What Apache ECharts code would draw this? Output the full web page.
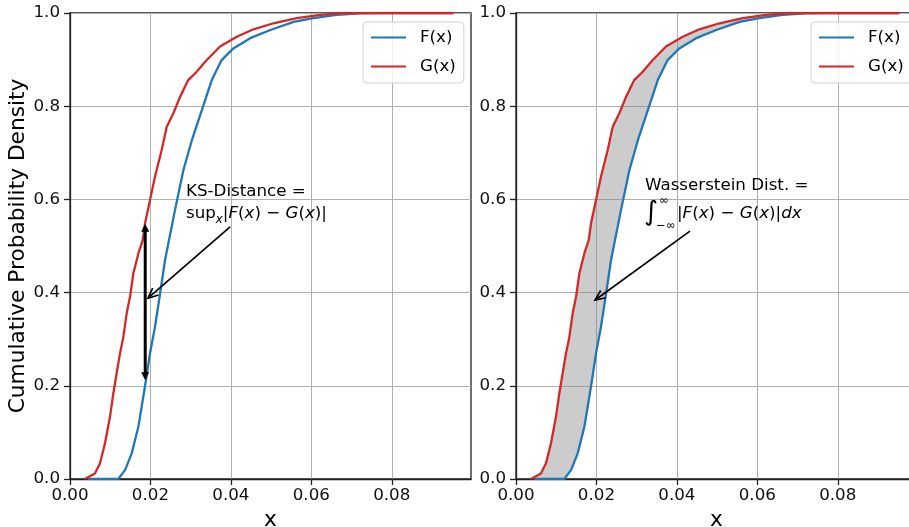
<!DOCTYPE html>
<html>
<head>
<meta charset="utf-8">
<script src="https://cdn.jsdelivr.net/npm/echarts@6/dist/echarts.min.js"></script>
<style>html,body{margin:0;padding:0;background:#fff;}#c{width:909px;height:527px;}</style>
</head>
<body>
<div id="c"></div>
<script>
// ---- data ----
const FX = [0.0045, 0.0120, 0.01368, 0.01534, 0.0170, 0.01824, 0.0191, 0.0199, 0.02114, 0.0224, 0.02363, 0.02446, 0.0261, 0.0282, 0.0303, 0.0328, 0.03525, 0.0377, 0.0406, 0.0448, 0.0498, 0.0556, 0.0605, 0.0663, 0.0721, 0.078, 0.0953];
const FY = [0, 0, 0.019, 0.055, 0.112, 0.177, 0.224, 0.27, 0.327, 0.398, 0.47, 0.506, 0.577, 0.663, 0.727, 0.792, 0.856, 0.899, 0.924, 0.946, 0.9635, 0.981, 0.989, 0.996, 0.999, 1.0, 1.0];
const GX = [0.0037, 0.0062, 0.00746, 0.0087, 0.00995, 0.01078, 0.0116, 0.01244, 0.01327, 0.0141, 0.01493, 0.01575, 0.0170, 0.0181, 0.01866, 0.0199, 0.02114, 0.0228, 0.02405, 0.0257, 0.02736, 0.0294, 0.0315, 0.034, 0.0373, 0.04147, 0.0456, 0.0506, 0.0564, 0.0622, 0.068, 0.0953];
const GY = [0, 0.012, 0.034, 0.0766, 0.134, 0.184, 0.227, 0.27, 0.305, 0.356, 0.391, 0.441, 0.484, 0.513, 0.549, 0.599, 0.649, 0.706, 0.756, 0.785, 0.82, 0.856, 0.874, 0.899, 0.928, 0.949, 0.965, 0.978, 0.989, 0.996, 1.0, 1.0];
const XTICKS = [0, 0.02, 0.04, 0.06, 0.08];
const SERIES_NAMES = ['F(x)', 'G(x)'];
const KS_X = 0.0187, KS_LOW = 0.212, KS_HIGH = 0.548;
const ARROW_LEFT = [[0.0398, 0.541], [0.0194, 0.388]];
const ARROW_RIGHT = [[0.04325, 0.532], [0.01968, 0.384]];

const FONT = 'DejaVu Sans';
const BLUE = '#1f77b4', RED = '#d62728';
const fData = FX.map((x, i) => [x, FY[i]]);
const gData = GX.map((x, i) => [x, GY[i]]);

const chart = echarts.init(document.getElementById('c'), null, {renderer: 'canvas'});

function xAxis(gi) {
  return {
    type: 'value', gridIndex: gi, min: 0, max: 0.0997,
    name: 'x', nameLocation: 'middle', nameGap: 27,
    nameTextStyle: {fontSize: 21.7, fontFamily: FONT, color: '#000'},
    axisLine: {show: true, lineStyle: {color: '#222', width: 1.3}},
    axisTick: {show: true, length: 6, customValues: XTICKS, lineStyle: {color: '#222', width: 1.3}},
    axisLabel: {customValues: XTICKS, margin: 8, fontSize: 16.7, fontFamily: FONT, color: '#111', formatter: v => v.toFixed(2)},
    splitLine: {show: true, lineStyle: {color: '#b0b0b0', width: 1}}
  };
}
function yAxis(gi, withName) {
  return {
    type: 'value', gridIndex: gi, min: 0, max: 1, interval: 0.2,
    name: withName ? 'Cumulative Probability Density' : '', nameLocation: 'middle', nameGap: 37,
    nameTextStyle: {fontSize: 21.7, fontFamily: FONT, color: '#000'},
    axisLine: {show: true, lineStyle: {color: '#222', width: 1.3}},
    axisTick: {show: true, length: 6, lineStyle: {color: '#222', width: 1.3}},
    axisLabel: {margin: 10, fontSize: 16.7, fontFamily: FONT, color: '#111', formatter: v => v.toFixed(1)},
    splitLine: {show: true, lineStyle: {color: '#b0b0b0', width: 1}}
  };
}
function legend(left) {
  return {
    orient: 'vertical', left: left, top: 22, padding: [7, 8, 8, 7],
    itemWidth: 35, itemHeight: 14, itemGap: 12,
    backgroundColor: 'rgba(255,255,255,0.8)', borderColor: '#d0d0d0', borderWidth: 1, borderRadius: 4,
    itemStyle: {opacity: 0},
    textStyle: {fontSize: 16.7, fontFamily: FONT, color: '#000', padding: [0, 0, 0, 9]},
    data: SERIES_NAMES, selectedMode: false
  };
}
function lineSeries(name, data, color, gi) {
  return {
    type: 'line', name: name, data: data, xAxisIndex: gi, yAxisIndex: gi,
    symbol: 'none', lineStyle: {color: color, width: 2.3}, itemStyle: {color: color},
    clip: true, z: 3, silent: true
  };
}

chart.setOption({
  animation: false,
  backgroundColor: '#fff',
  textStyle: {fontFamily: FONT},
  grid: [
    {left: 70, top: 13, width: 401, height: 466, show: true, borderColor: '#222', borderWidth: 1.3, outerBoundsMode: 'none'},
    {left: 516, top: 13, width: 401, height: 466, show: true, borderColor: '#222', borderWidth: 1.3, outerBoundsMode: 'none'}
  ],
  xAxis: [xAxis(0), xAxis(1)],
  yAxis: [yAxis(0, true), yAxis(1, false)],
  legend: [legend(363), legend(811)],
  series: [
    lineSeries('F(x)', fData, BLUE, 0),
    lineSeries('G(x)', gData, RED, 0),
    {
      type: 'custom', name: 'between', xAxisIndex: 1, yAxisIndex: 1, data: [[0, 0]], clip: true, silent: true, z: 1,
      renderItem: function (params, api) {
        const pts = gData.map(p => api.coord(p)).concat(fData.slice().reverse().map(p => api.coord(p)));
        return {type: 'polygon', shape: {points: pts}, style: {fill: 'rgba(128,128,128,0.4)', stroke: null}};
      }
    },
    lineSeries('F(x)', fData, BLUE, 1),
    lineSeries('G(x)', gData, RED, 1)
  ]
});

// ---- annotations positioned through the axes ----
function px(gi, p) { return chart.convertToPixel({gridIndex: gi}, p); }
function annotArrow(gi, pair) {
  const tail = px(gi, pair[0]), tip = px(gi, pair[1]);
  const dx = tip[0] - tail[0], dy = tip[1] - tail[1];
  const len = Math.hypot(dx, dy), bx = -dx / len, by = -dy / len;
  const L = 11, a = 24 * Math.PI / 180, c = Math.cos(a), s = Math.sin(a);
  const a1 = [tip[0] + L * (bx * c - by * s), tip[1] + L * (bx * s + by * c)];
  const a2 = [tip[0] + L * (bx * c + by * s), tip[1] + L * (-bx * s + by * c)];
  return [
    {type: 'line', z: 100, shape: {x1: tail[0], y1: tail[1], x2: tip[0], y2: tip[1]}, style: {stroke: '#000', lineWidth: 1.7}},
    {type: 'polyline', z: 100, shape: {points: [a1, tip, a2]}, style: {stroke: '#000', lineWidth: 1.7, fill: null}}
  ];
}
const ksTop = px(0, [KS_X, KS_HIGH]), ksBot = px(0, [KS_X, KS_LOW]);
const HL = 8, HW = 4;
const rich = {
  r: {fontSize: 16.7, fontFamily: FONT, color: '#000'},
  i: {fontSize: 16.7, fontFamily: FONT, fontStyle: 'italic', color: '#000'},
  s: {fontSize: 11.7, fontFamily: FONT, fontStyle: 'italic', color: '#000', padding: [12, 0, 0, 0]}
};
const graphics = [
  {type: 'line', z: 100, shape: {x1: ksTop[0], y1: ksTop[1] + HL - 1, x2: ksBot[0], y2: ksBot[1] - HL + 1}, style: {stroke: '#000', lineWidth: 3}},
  {type: 'polygon', z: 100, shape: {points: [[ksTop[0], ksTop[1]], [ksTop[0] - HW, ksTop[1] + HL], [ksTop[0] + HW, ksTop[1] + HL]]}, style: {fill: '#000'}},
  {type: 'polygon', z: 100, shape: {points: [[ksBot[0], ksBot[1]], [ksBot[0] - HW, ksBot[1] - HL], [ksBot[0] + HW, ksBot[1] - HL]]}, style: {fill: '#000'}},
  ...annotArrow(0, ARROW_LEFT),
  ...annotArrow(1, ARROW_RIGHT),
  {type: 'text', z: 101, style: {x: 186, y: 192, text: 'KS-Distance =', fontSize: 16.7, fontFamily: FONT, fill: '#000', align: 'left', verticalAlign: 'middle'}},
  {type: 'text', z: 101, style: {x: 186, y: 214, text: '{r|sup}{s|x}{r||}{i|F}{r|(}{i|x}{r|) − }{i|G}{r|(}{i|x}{r|)|}', rich: rich, align: 'left', verticalAlign: 'middle'}},
  {type: 'text', z: 101, style: {x: 645, y: 186, text: 'Wasserstein Dist. =', fontSize: 16.7, fontFamily: FONT, fill: '#000', align: 'left', verticalAlign: 'middle'}},
  {type: 'text', z: 101, style: {x: 644, y: 213, text: '∫', fontSize: 27, fontFamily: FONT, fill: '#000', align: 'left', verticalAlign: 'middle'}},
  {type: 'text', z: 101, style: {x: 659, y: 201, text: '∞', fontSize: 11.7, fontFamily: FONT, fill: '#000', align: 'left', verticalAlign: 'middle'}},
  {type: 'text', z: 101, style: {x: 656, y: 226, text: '−∞', fontSize: 11.7, fontFamily: FONT, fill: '#000', align: 'left', verticalAlign: 'middle'}},
  {type: 'text', z: 101, style: {x: 677, y: 214, text: '{r||}{i|F}{r|(}{i|x}{r|) − }{i|G}{r|(}{i|x}{r|)|}{i|dx}', rich: rich, align: 'left', verticalAlign: 'middle'}}
];
chart.setOption({graphic: graphics});
</script>
</body>
</html>
